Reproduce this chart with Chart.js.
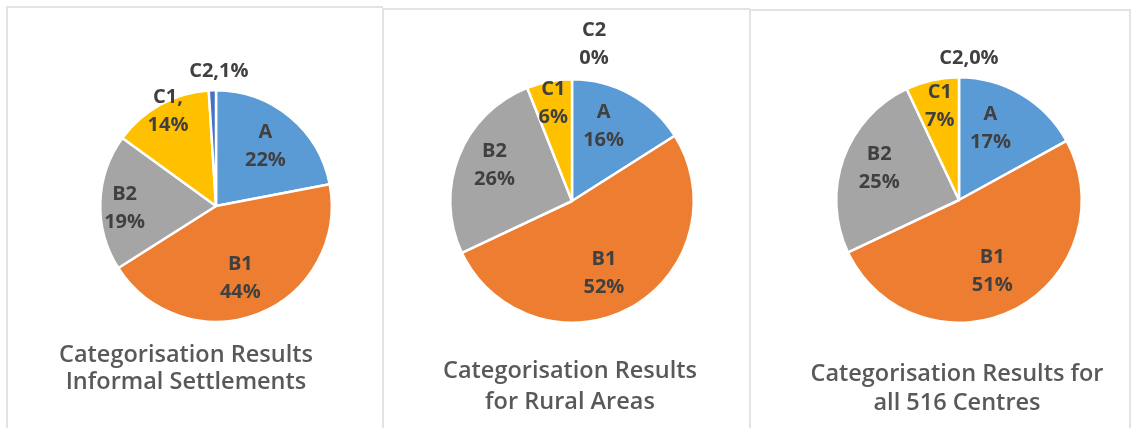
<!DOCTYPE html>
<html>
<head>
<meta charset="utf-8">
<script src="https://cdn.jsdelivr.net/npm/chart.js@4.4.0/dist/chart.umd.min.js"></script>
<style>
  body { margin: 0; background: #fff; width: 1133px; height: 428px; overflow: hidden; position: relative; font-family: "Open Sans", sans-serif; }
  .panel { position: absolute; box-sizing: border-box; border-top: 2px solid #e3e3e3; border-left: 2px solid #e3e3e3; height: 440px; }
  .chart { position: absolute; }
  .title { position: absolute; text-align: center; color: #595959; font-size: 23.5px; font-weight: 600; white-space: nowrap; }
</style>
</head>
<body>
<div class="panel" style="left:6px;top:6px;width:377px;"></div>
<div class="panel" style="left:382px;top:8px;width:368px;"></div>
<div class="panel" style="left:749px;top:9px;width:382px;border-right:2px solid #e3e3e3;"></div>

<div class="chart" style="left:8px;top:8px;width:375px;height:420px;"><canvas id="pieInformal"></canvas></div>
<div class="chart" style="left:384px;top:10px;width:366px;height:418px;"><canvas id="pieRural"></canvas></div>
<div class="chart" style="left:751px;top:11px;width:379px;height:417px;"><canvas id="pieAll"></canvas></div>

<div class="title" style="left:36px;top:340px;width:300px;line-height:27px;">Categorisation Results<br>Informal Settlements</div>
<div class="title" style="left:420px;top:354px;width:300px;line-height:31px;">Categorisation Results<br>for Rural Areas</div>
<div class="title" style="left:797px;top:358px;width:320px;line-height:29px;">Categorisation Results for<br>all 516 Centres</div>

<script>
const categories = ['A', 'B1', 'B2', 'C1', 'C2'];
const informalValues = [22, 44, 19, 14, 1];
const ruralValues = [16, 52, 26, 6, 0];
const allCentresValues = [17, 51, 25, 7, 0];

// text between category name and percentage in each slice label
const informalSeps = ['\n', '\n', '\n', ',\n', ','];
const ruralSeps = ['\n', '\n', '\n', '\n', '\n'];
const allCentresSeps = ['\n', '\n', '\n', '\n', ','];

const sliceColors = ['#5B9BD5', '#ED7D31', '#A5A5A5', '#FFC000', '#4472C4'];

// label anchor per slice: [fraction of radius, angle nudge in degrees]
const informalPlace = [[0.67, 0], [0.66, 3], [0.79, -3], [0.92, 2], [1.16, 3]];
const ruralPlace = [[0.67, -6], [0.65, 5], [0.70, 3], [0.82, 0], [1.30, 8]];
const allCentresPlace = [[0.64, -7], [0.64, 2], [0.70, 2], [0.78, 1], [1.16, 4]];

const sliceLabels = {
  id: 'sliceLabels',
  afterDatasetsDraw(chart, args, opts) {
    const ctx = chart.ctx;
    const ds = chart.data.datasets[0];
    const meta = chart.getDatasetMeta(0);
    ctx.save();
    ctx.font = 'bold 20px "Open Sans"';
    ctx.fillStyle = '#404040';
    ctx.textAlign = 'center';
    ctx.textBaseline = 'middle';
    meta.data.forEach((arc, i) => {
      const p = opts.place[i];
      const mid = (arc.startAngle + arc.endAngle) / 2 + p[1] * Math.PI / 180;
      const d = arc.outerRadius * p[0];
      const x = arc.x + Math.cos(mid) * d;
      const y = arc.y + Math.sin(mid) * d;
      const lines = (chart.data.labels[i] + opts.seps[i] + ds.data[i] + '%').split('\n');
      lines.forEach((t, k) => {
        ctx.fillText(t, x, y + (k - (lines.length - 1) / 2) * opts.lineHeight);
      });
    });
    ctx.restore();
  }
};

function makePie(id, values, seps, place, padding) {
  return new Chart(document.getElementById(id), {
    type: 'pie',
    data: {
      labels: categories,
      datasets: [{
        data: values,
        backgroundColor: sliceColors,
        borderColor: '#ffffff',
        borderWidth: 2.5
      }]
    },
    options: {
      responsive: true,
      maintainAspectRatio: false,
      animation: false,
      layout: { padding: padding },
      plugins: {
        legend: { display: false },
        tooltip: { enabled: false },
        sliceLabels: { seps: seps, place: place, lineHeight: 28 }
      }
    },
    plugins: [sliceLabels]
  });
}

makePie('pieInformal', informalValues, informalSeps, informalPlace, { left: 91, right: 50, top: 81, bottom: 105 });
makePie('pieRural', ruralValues, ruralSeps, ruralPlace, { left: 65, right: 55, top: 68, bottom: 104 });
makePie('pieAll', allCentresValues, allCentresSeps, allCentresPlace, { left: 84, right: 47, top: 65, bottom: 104 });
</script>
</body>
</html>
